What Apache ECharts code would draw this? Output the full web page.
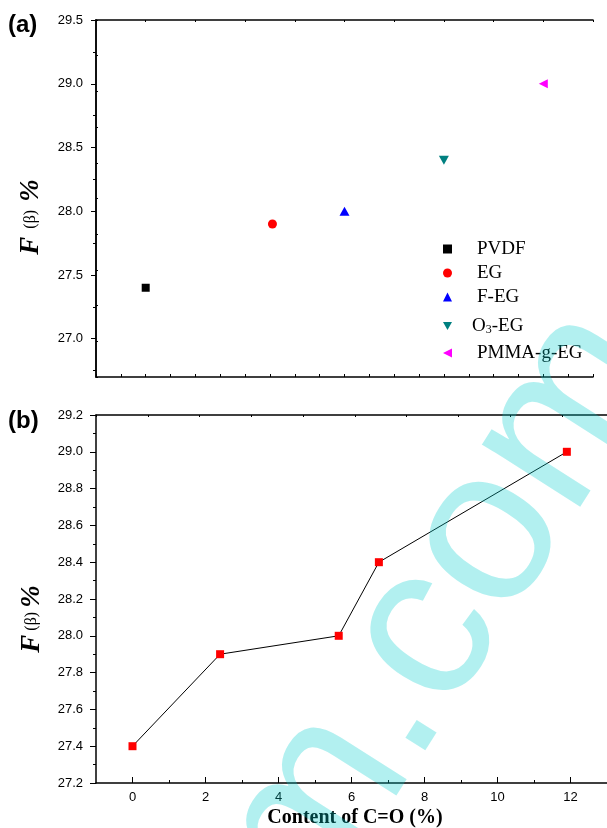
<!DOCTYPE html>
<html>
<head>
<meta charset="utf-8">
<script src="https://cdn.jsdelivr.net/npm/echarts@6/dist/echarts.min.js"></script>
<style>
  html, body { margin: 0; padding: 0; background: #ffffff; }
  #chart { width: 607px; height: 828px; }
</style>
</head>
<body>
<div id="chart"></div>
<script>
// Panel (a): beta-phase fraction of each sample
const sampleNames = ['PVDF', 'EG', 'F-EG', 'O3-EG', 'PMMA-g-EG'];
const samplePositions = [2, 7.1, 10, 14, 18];
const sampleBeta = [27.4, 27.9, 28.0, 28.4, 29.0];

// Panel (b): beta-phase fraction against carbonyl content
const carbonylContent = [0, 2.4, 5.65, 6.75, 11.9];
const betaByContent = [27.4, 27.9, 28.0, 28.4, 29.0];

// Tick values
const yMajorA = [27.0, 27.5, 28.0, 28.5, 29.0, 29.5];
const yMinorA = [26.75, 27.25, 27.75, 28.25, 28.75, 29.25];
const xMajorB = [0, 2, 4, 6, 8, 10, 12];
const xMinorB = [1, 3, 5, 7, 9, 11];

// Marker shapes (down- and left-pointing triangles as paths so the legend keeps them)
const sampleStyles = [
  { symbol: 'rect', size: 8, color: '#000000' },
  { symbol: 'circle', size: 9, color: '#ff0000' },
  { symbol: 'triangle', size: [10, 9], color: '#0000ff' },
  { symbol: 'path://M0,0L10,0L5,9Z', size: [10, 9], color: '#008080' },
  { symbol: 'path://M9,0L9,9L0,4.5Z', size: [9, 9], color: '#ff00ff' }
];

const legendRows = [
  { top: 239, pad: 20 },
  { top: 263, pad: 20 },
  { top: 287, pad: 20 },
  { top: 312, pad: 15 },
  { top: 343, pad: 20 }
];

const axisColor = '#000000';
const tickFont = { color: '#000', fontFamily: 'Liberation Sans, Arial, sans-serif', fontSize: 13 };
const serif = 'Liberation Serif, Times New Roman, serif';

const gridA = { left: 96, top: 20, width: 497, height: 357 };
const gridB = { left: 96, top: 415, width: 513.4, height: 368 };

const chart = echarts.init(document.getElementById('chart'), null, { renderer: 'canvas' });

const hiddenAxis = (gi, min, max) => ({ gridIndex: gi, type: 'value', min, max, show: false });

const yTitleRich = {
  f: { fontFamily: serif, fontWeight: 'bold', fontStyle: 'italic', fontSize: 27 },
  b: { fontFamily: serif, fontSize: 16 },
  p: { fontFamily: serif, fontWeight: 'bold', fontStyle: 'italic', fontSize: 27 }
};

const option = {
  backgroundColor: '#ffffff',
  animation: false,
  grid: [
    Object.assign({}, gridA),
    Object.assign({}, gridA),
    Object.assign({}, gridB),
    Object.assign({}, gridB)
  ],
  xAxis: [
    { // 0: panel (a) bottom
      gridIndex: 0, type: 'value', position: 'bottom', min: 0, max: 20, interval: 1,
      axisLine: { lineStyle: { color: axisColor, width: 1.5 } },
      axisTick: { inside: true, length: 3, lineStyle: { color: axisColor } },
      axisLabel: { show: false }, splitLine: { show: false }
    },
    { // 1: panel (a) top
      gridIndex: 0, type: 'value', position: 'top', min: 0, max: 10, interval: 1,
      axisLine: { lineStyle: { color: axisColor, width: 1.5 } },
      axisTick: { inside: true, length: 2, lineStyle: { color: axisColor } },
      axisLabel: { show: false }, splitLine: { show: false }
    },
    hiddenAxis(1, 0, 20), // 2
    { // 3: panel (b) bottom, major ticks and labels
      gridIndex: 2, type: 'value', position: 'bottom', min: -1, max: 13,
      axisLine: { onZero: false, lineStyle: { color: axisColor, width: 1.5 } },
      axisTick: { inside: true, length: 6, customValues: xMajorB, lineStyle: { color: axisColor } },
      axisLabel: Object.assign({ customValues: xMajorB, margin: 8 }, tickFont),
      splitLine: { show: false }
    },
    { // 4: panel (b) top
      gridIndex: 2, type: 'value', position: 'top', min: 0, max: 9.87, interval: 1,
      axisLine: { lineStyle: { color: axisColor, width: 1.5 } },
      axisTick: { inside: true, length: 2, lineStyle: { color: axisColor } },
      axisLabel: { show: false }, splitLine: { show: false }
    },
    { // 5: panel (b) bottom, minor ticks
      gridIndex: 3, type: 'value', position: 'bottom', min: -1, max: 13,
      axisLine: { show: false },
      axisTick: { inside: true, length: 3, customValues: xMinorB, lineStyle: { color: axisColor } },
      axisLabel: { show: false }, splitLine: { show: false }
    }
  ],
  yAxis: [
    { // 0: panel (a) left, major ticks and labels
      gridIndex: 0, type: 'value', position: 'left', min: 26.7, max: 29.5,
      axisLine: { show: true, onZero: false, lineStyle: { color: axisColor, width: 1.5 } },
      axisTick: { show: true, length: 5, customValues: yMajorA, lineStyle: { color: axisColor } },
      axisLabel: Object.assign({ customValues: yMajorA, margin: 13, formatter: v => v.toFixed(1) }, tickFont),
      splitLine: { show: false }
    },
    { // 1: panel (a) right
      gridIndex: 0, type: 'value', position: 'right', min: 0, max: 10, interval: 1,
      axisLine: { show: true, lineStyle: { color: axisColor, width: 1.5 } },
      axisTick: { show: true, length: 2, lineStyle: { color: axisColor } },
      axisLabel: { show: false }, splitLine: { show: false }
    },
    { // 2: panel (a) left, minor ticks
      gridIndex: 1, type: 'value', position: 'left', min: 26.7, max: 29.5,
      axisLine: { show: false },
      axisTick: { show: true, length: 3, customValues: yMinorA, lineStyle: { color: axisColor } },
      axisLabel: { show: false }, splitLine: { show: false }
    },
    { // 3: panel (b) left
      gridIndex: 2, type: 'value', position: 'left', min: 27.2, max: 29.2, interval: 0.2,
      axisLine: { show: true, onZero: false, lineStyle: { color: axisColor, width: 1.5 } },
      axisTick: { show: true, length: 6, lineStyle: { color: axisColor } },
      minorTick: { show: true, splitNumber: 2, length: 3, lineStyle: { color: axisColor } },
      axisLabel: Object.assign({ margin: 13, formatter: v => v.toFixed(1) }, tickFont),
      splitLine: { show: false }
    },
    hiddenAxis(3, 27.2, 29.2) // 4
  ],
  legend: sampleNames.map((name, i) => ({
    data: [{ name, icon: sampleStyles[i].symbol }],
    orient: 'vertical',
    left: 443,
    top: legendRows[i].top,
    padding: 0,
    itemWidth: 9,
    itemHeight: 9,
    selectedMode: false,
    formatter: n => n === 'O3-EG' ? 'O{sub|3}-EG' : n,
    textStyle: {
      color: '#000', fontFamily: serif, fontSize: 19, lineHeight: 20,
      padding: [0, 0, 0, legendRows[i].pad],
      rich: { sub: { fontFamily: serif, fontSize: 12, verticalAlign: 'bottom', padding: [12, 0, 0, 0], lineHeight: 20 } }
    }
  })),
  series: sampleNames.map((name, i) => ({
    name,
    type: 'scatter',
    xAxisIndex: 0,
    yAxisIndex: 0,
    symbol: sampleStyles[i].symbol,
    symbolSize: sampleStyles[i].size,
    itemStyle: { color: sampleStyles[i].color, opacity: 1 },
    data: [[samplePositions[i], sampleBeta[i]]]
  })).concat([{
    name: 'content',
    type: 'line',
    xAxisIndex: 3,
    yAxisIndex: 3,
    symbol: 'rect',
    symbolSize: 8,
    showSymbol: true,
    lineStyle: { color: '#000', width: 1 },
    itemStyle: { color: '#ff0000' },
    data: carbonylContent.map((c, i) => [c, betaByContent[i]])
  }]),
  graphic: [
    { type: 'text', left: 8, top: 13, style: { text: '(a)', font: 'bold 24px Liberation Sans, Arial, sans-serif', fill: '#000' } },
    { type: 'text', left: 8, top: 409, style: { text: '(b)', font: 'bold 24px Liberation Sans, Arial, sans-serif', fill: '#000' } },
    {
      type: 'text', x: 31, y: 217, rotation: Math.PI / 2,
      style: { text: '{f|F}{b|  (β)  }{p|%}', align: 'center', verticalAlign: 'middle', fill: '#000', rich: yTitleRich }
    },
    {
      type: 'text', x: 32, y: 619, rotation: Math.PI / 2,
      style: { text: '{f|F}{b| (β) }{p|%}', align: 'center', verticalAlign: 'middle', fill: '#000', rich: yTitleRich }
    },
    {
      type: 'text', x: 355, y: 818,
      style: { text: 'Content of C=O (%)', align: 'center', verticalAlign: 'middle', fill: '#000',
               font: 'bold 20px Liberation Serif, Times New Roman, serif' }
    },
    {
      type: 'text', x: 172, y: 830, rotation: 57.5 * Math.PI / 180, z: 100,
      style: { text: 'm.com.cn', align: 'left', verticalAlign: 'top', fill: 'rgba(0,205,205,0.3)',
               font: '220px Liberation Sans, Arial, sans-serif' }
    }
  ]
};

chart.setOption(option);
</script>
</body>
</html>
